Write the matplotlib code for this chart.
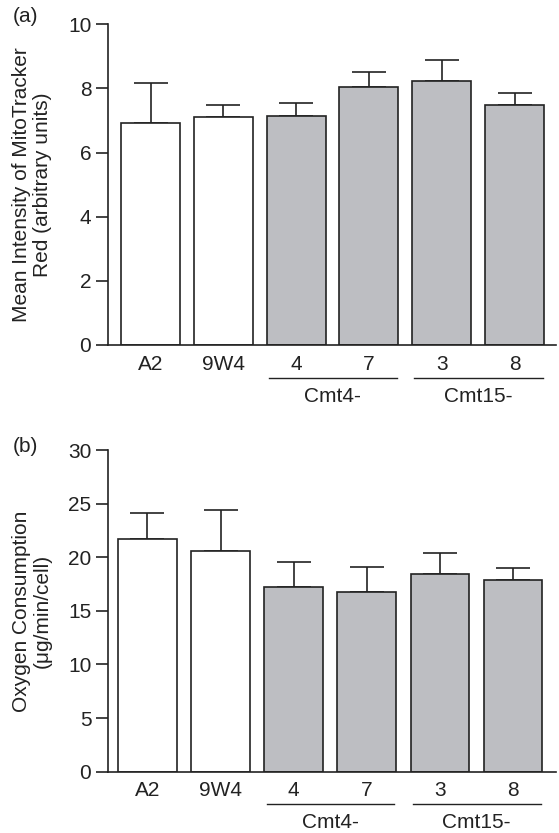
import matplotlib
matplotlib.use('Agg')
import matplotlib.pyplot as plt
import matplotlib.transforms as mtransforms
import numpy as np

plt.rcParams['font.family'] = ['Liberation Sans', 'DejaVu Sans']

# data
strains = ['A2', '9W4', '4', '7', '3', '8']
bar_colors = ['white', 'white', '#bdbec2', '#bdbec2', '#bdbec2', '#bdbec2']
groups = [('Cmt4-', 2, 3), ('Cmt15-', 4, 5)]

mito_mean = [6.92, 7.10, 7.15, 8.05, 8.22, 7.47]
mito_err = [1.25, 0.38, 0.40, 0.47, 0.68, 0.39]

oxy_mean = [21.7, 20.6, 17.2, 16.8, 18.4, 17.9]
oxy_err = [2.4, 3.8, 2.4, 2.3, 2.0, 1.1]

ink = '#222222'
fs = 15

fig = plt.figure(figsize=(5.59, 8.33), dpi=100)
ax_a = fig.add_axes([108/559, 1 - 345/833, 448/559, 320.7/833])
ax_b = fig.add_axes([108/559, 1 - 771.7/833, 448/559, 321.7/833])


def draw_panel(ax, means, errs, ymax, ystep, ylabel, xlim, width, line_y, text_y):
    x = np.arange(len(strains))
    ax.bar(x, means, width=width, color=bar_colors, edgecolor=ink, linewidth=1.2, zorder=2)
    ax.errorbar(x, means, yerr=[np.zeros(len(errs)), errs], fmt='none', ecolor=ink,
                elinewidth=1.2, capsize=12.5, capthick=1.2, zorder=1)
    ax.set_xlim(*xlim)
    ax.set_ylim(0, ymax)
    ax.set_yticks(np.arange(0, ymax + 0.01, ystep))
    ax.set_xticks(x)
    ax.set_xticklabels(strains)
    ax.tick_params(axis='x', length=0, pad=7, labelsize=fs, colors=ink)
    ax.tick_params(axis='y', length=9, width=1.2, labelsize=fs, colors=ink, pad=3)
    for s in ['top', 'right']:
        ax.spines[s].set_visible(False)
    for s in ['left', 'bottom']:
        ax.spines[s].set_linewidth(1.2)
        ax.spines[s].set_color(ink)
    ax.set_ylabel(ylabel, fontsize=fs, color=ink, va='center', linespacing=1.15)
    ax.yaxis.set_label_coords(-0.170, 0.5)
    trans = mtransforms.blended_transform_factory(ax.transData, ax.transAxes)
    for name, i0, i1 in groups:
        ax.plot([i0 - width / 2 + 0.03, i1 + width / 2 - 0.02], [line_y, line_y], color=ink,
                lw=1.0, transform=trans, clip_on=False)
        ax.text((i0 + i1) / 2, text_y, name, transform=trans, ha='center', va='center',
                fontsize=fs, color=ink)


draw_panel(ax_a, mito_mean, mito_err, 10, 2,
           'Mean Intensity of MitoTracker\nRed (arbitrary units)',
           (-0.584, 5.57), 0.81, -0.102, -0.160)
draw_panel(ax_b, oxy_mean, oxy_err, 30, 5,
           'Oxygen Consumption\n(\u03bcg/min/cell)',
           (-0.54, 5.59), 0.80, -0.100, -0.157)

fig.text(13/559, 1 - 17/833, '(a)', fontsize=fs, color=ink, ha='left', va='center')
fig.text(13/559, 1 - 446/833, '(b)', fontsize=fs, color=ink, ha='left', va='center')

fig.savefig('out.png', dpi=100)
